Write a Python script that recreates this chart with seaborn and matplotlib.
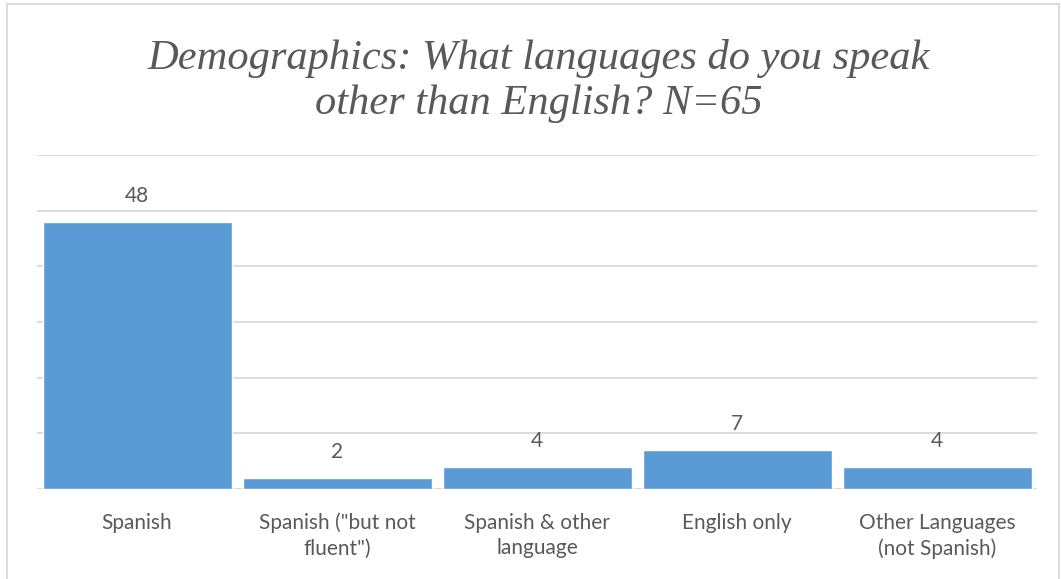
import seaborn as sns
import matplotlib.pyplot as plt
from matplotlib.patches import Rectangle

categories = ["Spanish", "Spanish (\"but not\nfluent\")", "Spanish & other\nlanguage",
              "English only", "Other Languages\n(not Spanish)"]
counts = [48, 2, 4, 7, 4]

sns.set_theme(style="white")
plt.rcParams['font.family'] = ['Lato', 'DejaVu Sans']

fig = plt.figure(figsize=(10.61, 5.79), dpi=100)
ax = fig.add_axes([37 / 1061, 1 - 489 / 579, 1000 / 1061, (489 - 155) / 579])

sns.barplot(x=categories, y=counts, color="#5B9BD5", saturation=1, width=0.945, ax=ax)

ax.set_ylim(0, 60)
ax.set_yticks(range(0, 61, 10))
ax.yaxis.grid(True, color="#D9D9D9", linewidth=1.3)
ax.set_axisbelow(True)
ax.tick_params(axis="y", left=False, labelleft=False)
ax.tick_params(axis="x", bottom=False, colors="#595959", labelsize=15, pad=11)
for lab in ax.get_xticklabels():
    lab.set_linespacing(1.35)
for s in ax.spines.values():
    s.set_visible(False)
ax.set_xlabel("")
ax.set_ylabel("")

for i, v in enumerate(counts):
    ax.annotate(str(v), (i, v), xytext=(0, 16), textcoords="offset pixels",
                ha="center", va="bottom", fontsize=15, color="#595959")

fig.text(539 / 1061, 1 - 81 / 579, "Demographics: What languages do you speak\nother than English? N=65",
         ha="center", va="center", fontsize=30.6, style="italic", color="#595959",
         family=["Liberation Serif"], linespacing=1.19)

fig.patches.append(Rectangle((7 / 1061, -0.1), 1052 / 1061, 1.1 - 4 / 579,
                             transform=fig.transFigure, fill=False,
                             edgecolor="#D9D9D9", linewidth=1.3))

fig.savefig("out.png", dpi=100)
